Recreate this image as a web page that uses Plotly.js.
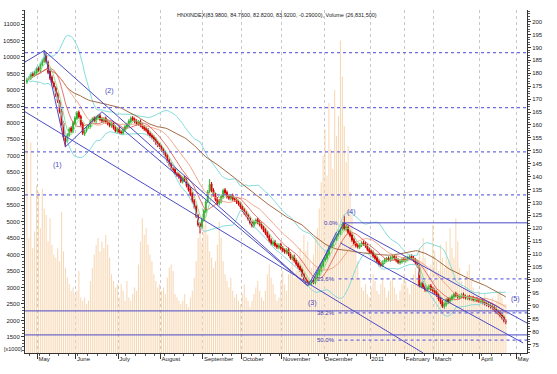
<!DOCTYPE html>
<html><head><meta charset="utf-8">
<script src="https://cdn.plot.ly/plotly-3.0.1.min.js"></script>
<style>html,body{margin:0;padding:0;background:#fff}#chart{width:557px;height:374px}</style>
</head><body><div id="chart"></div>
<script>
const monthIdx = [6,26,48,70,92,112,133,155,179,197,212,236,255];
const monthLabels = ['May','June','July','August','September','October','November','December','2011','February','March','April','May'];

const openP = [
176.6,177.9,178.0,179.9,179.2,180.2,182.0,181.0,183.4,184.6,
186.9,184.2,180.9,178.5,176.2,174.4,171.9,169.0,165.4,160.8,
154.9,153.6,156.0,158.8,157.4,160.5,162.4,164.9,163.3,160.4,
156.4,157.8,159.2,159.3,161.6,162.6,161.5,162.7,163.6,162.3,
161.4,162.6,161.4,160.7,159.6,160.8,159.1,157.5,158.5,157.4,
156.7,158.0,159.1,160.0,161.3,162.8,162.2,161.5,160.3,161.4,
160.1,159.3,158.6,158.1,156.8,156.0,155.3,154.4,153.2,152.3,
151.6,150.4,149.2,148.1,146.3,144.8,143.0,142.8,141.1,140.8,
139.9,138.0,139.6,138.6,136.7,135.2,133.4,130.6,128.4,124.9,
121.6,120.6,123.2,126.5,130.4,134.3,137.2,134.8,133.1,131.4,
129.5,130.3,132.1,134.9,133.9,132.4,131.4,132.7,131.5,131.1,
130.3,129.6,128.4,127.2,126.0,125.1,123.8,122.3,120.8,122.2,
123.4,122.4,121.6,120.5,119.4,118.3,117.0,115.4,113.8,114.8,
113.5,112.5,113.7,112.4,111.6,110.6,111.8,110.1,108.3,109.1,
107.6,106.3,105.2,104.0,102.1,100.5,99.4,98.4,98.7,99.8,
98.9,100.6,102.2,103.7,105.4,107.5,108.4,110.0,112.7,113.2,
115.3,115.8,117.5,118.0,119.8,122.0,119.5,120.4,118.5,117.4,
115.6,114.3,113.4,112.6,113.4,114.5,114.1,113.3,111.9,111.2,
110.7,109.4,108.6,107.3,106.2,105.6,106.8,107.6,108.4,107.7,
108.4,109.2,108.5,107.7,106.6,107.0,108.1,107.4,107.9,108.5,
109.2,108.6,107.8,106.7,105.1,97.5,98.8,97.4,95.9,96.7,
97.7,96.6,96.0,95.4,94.3,92.8,91.5,89.6,90.4,92.5,
91.6,92.6,93.4,94.7,94.0,93.2,93.6,94.4,93.6,92.9,
93.5,92.6,93.1,92.2,92.8,92.3,91.6,92.1,91.4,91.0,
90.7,90.3,89.8,89.4,88.6,87.8,87.4,86.4,85.5,83.98];
const highP = [
178.3,178.9,180.3,180.6,181.0,182.5,182.7,184.2,185.6,188.8,
187.8,184.9,181.6,179.2,176.9,175.0,172.6,169.7,166.1,161.5,
155.6,156.8,159.1,159.5,161.6,163.5,165.4,165.6,164.0,161.1,
158.2,159.6,160.3,162.1,163.0,163.3,163.6,164.1,164.3,163.0,
163.1,163.3,162.1,161.4,161.3,161.5,159.8,159.0,159.2,158.1,
158.8,160.1,160.9,162.2,163.3,163.5,162.9,162.2,161.9,162.1,
160.8,160.0,159.3,158.8,157.5,156.7,156.0,155.1,153.9,153.0,
152.3,151.1,149.9,148.8,147.0,145.5,143.7,143.5,141.8,141.5,
140.6,140.1,140.3,139.3,137.4,135.9,134.1,131.3,129.1,125.6,
122.3,124.2,127.5,130.9,134.8,139.0,137.9,135.5,133.8,132.1,
131.2,133.1,135.3,135.6,134.6,133.1,133.2,133.4,132.2,131.8,
131.0,130.3,129.1,127.9,126.7,125.8,124.5,123.0,123.1,123.8,
124.1,123.1,122.3,121.2,120.1,119.0,117.7,116.1,115.3,115.5,
114.2,114.2,114.4,113.1,112.3,112.3,112.5,110.8,109.6,109.8,
108.3,107.0,105.9,104.7,102.8,101.2,100.1,99.6,100.3,100.5,
101.5,103.1,104.6,106.3,108.0,109.3,110.9,113.2,114.4,115.8,
116.9,118.0,119.1,120.3,122.3,125.2,121.4,121.1,119.2,118.1,
116.3,115.0,114.1,114.3,115.0,115.2,114.8,114.0,112.6,111.9,
111.4,110.1,109.3,108.0,106.9,107.6,108.5,108.9,109.1,109.3,
109.7,109.9,109.2,108.4,107.9,108.6,108.8,108.8,109.4,109.6,
109.9,109.3,108.5,107.4,105.8,99.3,99.5,98.1,97.6,98.2,
98.4,97.3,96.7,96.1,95.0,93.5,92.2,91.3,93.0,93.2,
93.5,94.3,95.2,95.4,94.7,94.5,94.9,95.1,94.3,94.0,
94.2,93.6,93.8,93.3,93.5,93.0,92.6,92.8,92.1,91.7,
91.4,91.0,90.5,90.1,89.3,88.5,88.1,87.1,86.2,84.76];
const lowP = [
175.9,177.2,177.4,178.3,178.6,179.6,180.5,180.4,182.7,184.0,
184.0,179.6,177.4,175.7,174.1,170.8,168.5,164.4,159.7,154.1,
151.5,153.0,155.4,156.9,156.8,159.9,161.8,162.4,159.5,156.1,
155.7,157.1,158.5,158.6,160.9,161.1,160.8,162.0,161.4,160.9,
160.7,160.5,159.8,159.1,158.9,158.2,157.0,156.8,156.5,156.2,
156.0,157.3,158.4,159.3,160.6,161.4,160.6,159.8,159.6,159.1,
158.4,157.7,157.2,155.9,155.1,154.4,153.5,152.3,151.4,150.7,
149.5,148.4,147.2,145.3,143.9,142.5,141.8,140.6,139.9,139.1,
137.5,137.3,138.1,135.8,134.2,132.4,129.7,127.5,123.9,120.6,
118.0,119.9,122.5,125.8,129.7,133.6,133.9,132.1,130.4,129.0,
128.8,129.6,131.4,133.0,131.5,130.9,130.7,130.6,130.2,129.4,
128.7,127.5,126.3,125.1,124.2,122.9,121.4,120.3,120.1,121.5,
121.5,120.7,119.6,118.5,117.4,116.1,114.5,113.3,113.1,112.6,
112.0,111.8,111.5,110.7,110.1,109.9,109.2,107.8,107.6,106.7,
105.4,104.3,103.1,101.2,99.6,98.5,97.7,97.9,98.0,98.4,
98.2,99.9,101.5,103.0,104.7,106.8,107.7,109.3,111.8,112.5,
114.5,115.1,116.8,117.3,119.1,119.1,118.8,117.6,116.5,114.7,
113.4,112.5,112.1,111.9,112.7,113.2,112.4,111.1,110.2,109.8,
108.5,107.6,106.4,105.3,105.1,104.9,106.1,106.9,107.2,107.0,
107.7,107.7,106.8,106.1,105.9,106.3,106.9,106.7,107.2,107.8,
107.7,106.9,105.8,104.6,97.1,96.8,96.5,95.4,95.2,96.0,
95.7,95.1,94.5,93.4,91.9,90.6,89.1,88.8,89.7,90.7,
90.9,91.9,92.7,93.4,92.7,92.5,92.9,92.8,92.4,92.2,
92.1,91.9,91.7,91.5,91.4,91.1,90.9,90.5,90.1,89.8,
89.4,88.9,88.5,87.7,86.9,86.4,85.5,84.6,83.5,82.82];
const closeP = [
177.5,178.2,179.6,179.0,180.4,181.8,181.2,183.5,184.8,186.2,
184.6,180.3,178.1,176.4,174.8,171.5,169.2,165.1,160.4,155.2,
153.8,156.1,158.4,157.6,160.9,162.8,164.6,163.1,160.2,156.8,
157.5,158.9,159.6,161.4,162.3,161.8,162.9,163.4,162.1,161.6,
162.4,161.2,160.5,159.8,160.6,158.9,157.7,158.3,157.2,156.9,
158.1,159.4,160.2,161.5,162.6,162.1,161.3,160.5,161.2,159.8,
159.1,158.4,157.9,156.6,155.8,155.1,154.2,153.0,152.1,151.4,
150.2,149.1,147.9,146.0,144.6,143.2,142.5,141.3,140.6,139.8,
138.2,139.4,138.8,136.5,134.9,133.1,130.4,128.2,124.6,121.3,
120.4,123.5,126.8,130.2,134.1,136.9,134.6,132.8,131.1,129.7,
130.5,132.4,134.6,133.7,132.2,131.6,132.5,131.3,130.9,130.1,
129.4,128.2,127.0,125.8,124.9,123.6,122.1,121.0,122.4,123.1,
122.2,121.4,120.3,119.2,118.1,116.8,115.2,114.0,114.6,113.3,
112.7,113.5,112.2,111.4,110.8,111.6,109.9,108.5,108.9,107.4,
106.1,105.0,103.8,101.9,100.3,99.2,98.6,98.9,99.6,99.1,
100.8,102.4,103.9,105.6,107.3,108.6,110.2,112.5,113.4,115.1,
116.0,117.3,118.2,119.6,121.6,119.8,120.6,118.3,117.2,115.4,
114.1,113.2,112.8,113.6,114.3,113.9,113.1,111.8,110.9,110.5,
109.2,108.3,107.1,106.0,105.8,106.9,107.8,108.2,107.9,108.6,
109.0,108.4,107.5,106.8,107.2,107.9,107.6,108.1,108.7,108.9,
108.4,107.6,106.5,105.3,97.8,98.6,97.2,96.1,96.9,97.5,
96.4,95.8,95.2,94.1,92.6,91.3,89.8,90.6,92.3,91.4,
92.8,93.6,94.5,94.1,93.4,93.8,94.2,93.5,93.1,93.3,
92.8,92.9,92.4,92.6,92.1,91.8,91.9,91.2,90.8,90.5,
90.1,89.6,89.2,88.4,87.6,87.1,86.2,85.3,84.2,83.92];
const volume = [
7500,4500,7400,4200,4700,6100,5900,4800,6000,5400,
5200,4400,5100,4300,4000,3900,4200,3800,5300,4100,
3600,3300,3100,2900,3000,2800,2900,3500,2700,2600,
2700,2500,2600,3200,3600,4000,4300,4500,4100,4400,
4200,4600,4300,3900,3400,3200,3000,3100,2700,3100,
2900,2600,3200,2700,2600,2800,3000,2900,3700,4400,
5100,4600,4800,4300,4000,3800,3400,3200,3000,3100,
2900,3000,2800,3300,3600,3700,3500,2800,2700,2600,
2500,2600,2800,2500,2400,2700,2900,3300,3800,4500,
4700,4400,4900,5400,4600,4100,3900,3600,3800,4300,
5000,4500,3800,3400,3200,3000,3300,2900,2700,2800,
2600,2500,2800,3100,2700,2600,2400,2600,2800,3000,
3200,2900,2700,2600,2900,3400,3700,3300,3100,2800,
2600,2700,3200,3500,3100,2900,3400,3600,3900,3300,
3500,3800,4200,3900,4600,4100,4400,3800,3600,4000,
4500,4800,5400,6200,7000,7800,6400,8600,7200,6600,
9000,7600,8200,10500,9400,7900,6800,7300,5900,5200,
4600,4100,3800,3300,3000,2900,3100,2800,2700,3000,
3400,3200,2900,2800,3100,3300,3000,2700,2900,3200,
3300,3000,2800,2600,2900,3100,3400,3200,3000,2800,
3100,3400,3600,3300,4200,3800,4500,3900,3600,3400,
3700,4900,4100,3800,3500,4300,3900,3600,4400,3800,
4800,4200,3900,5100,4400,3600,3200,3000,3300,3500,
3700,3200,3000,2800,2700,2900,2600,2700,2800,2500,
2600,2400,2700,2500,2600,2800,2900,2700,2500,2500];

// trend lines (trading-day index, index level)
const trendX = [[-1.6,9],[9,20],[20,39],[9,146],[39,146],[-1,206],[146,165],[148,161],[165,260],[163,258]];
const trendY = [[184.1,188.8],[188.8,151.5],[151.5,165.1],[188.8,97.7],[165.1,97.7],[165.1,71.7],[97.7,122.1],[98.8,118.6],[122.1,83.3],[114.3,75.6]];

const dotLevels = [188.0,166.7,149.6,132.9];
const solidLevels = [88.0,78.7];
const fibLevels = [122.1,100.4,87.2,76.7];
const fibLabels = ['0.0%','23.6%','38.2%','50.0%'];
const fibStart = [164,162,162,162];

const waveLabels = ['(1)','(2)','(3)','(4)','(5)'];
const waveX = [16,43,148.6,169,254];
const waveY = [144.6,173.3,91.1,126.4,92.6];

const titleText = 'HNXINDEX(83.9800, 84.7600, 82.8200, 83.9200, -0.29000), Volume (26,831,500)';

const dayIdx = closeP.map((_, i) => i);
function sma(a, n){ return a.map((_, i) => { const s = Math.max(0, i-n+1); let t = 0; for (let k=s;k<=i;k++) t += a[k]; return t/(i-s+1); }); }
function band(a, n, m){ const mid = sma(a, n); return a.map((_, i) => { const s = Math.max(0, i-n+1); let v = 0; for (let k=s;k<=i;k++) v += (a[k]-mid[i])**2; return mid[i] + m*Math.sqrt(v/(i-s+1)); }); }

const traces = [];
traces.push({type:'bar', x:dayIdx, y:volume, yaxis:'y', xaxis:'x', marker:{color:'#f8d8b4', line:{width:0}}, hoverinfo:'skip', showlegend:false});

function line(y, color, w){ return {type:'scatter', mode:'lines', x:dayIdx, y:y, yaxis:'y2', line:{color:color, width:w}, hoverinfo:'skip', showlegend:false}; }
traces.push(line(band(closeP,20,2), '#86dcdc', 1));
traces.push(line(band(closeP,20,-2), '#86dcdc', 1));
traces.push(line(sma(closeP,50), '#9a5a30', 0.9));
traces.push(line(sma(closeP,20), '#f0a080', 0.9));
traces.push(line(sma(closeP,10), '#e05050', 0.8));
traces.push(line(sma(closeP,5), '#86dc86', 0.9));

traces.push({type:'candlestick', x:dayIdx, open:openP, high:highP, low:lowP, close:closeP, yaxis:'y2', xaxis:'x',
  increasing:{line:{color:'#2fb02f', width:1}, fillcolor:'#6ee06e'},
  decreasing:{line:{color:'#d00000', width:1}, fillcolor:'#ee1a1a'},
  whiskerwidth:0, hoverinfo:'skip', showlegend:false});

for (let i=0;i<trendX.length;i++){
  traces.push({type:'scatter', mode:'lines', x:trendX[i], y:trendY[i], yaxis:'y2', line:{color:'#4b4bc4', width:1}, hoverinfo:'skip', showlegend:false});
}

const dotStyle = {color:'#6c6ce0', width:1.2, dash:'dot'};
const shapes = [];
dotLevels.forEach(v => shapes.push({type:'line', xref:'paper', x0:0, x1:1, yref:'y2', y0:v, y1:v, line:dotStyle, layer:'above'}));
solidLevels.forEach(v => shapes.push({type:'line', xref:'paper', x0:0, x1:1, yref:'y2', y0:v, y1:v, line:{color:'#4a4ac8', width:1}, layer:'above'}));
fibLevels.forEach((v,i) => shapes.push({type:'line', xref:'x', x0:fibStart[i], x1:260, yref:'y2', y0:v, y1:v, line: i===0 ? {color:'#4a4ac8', width:1} : dotStyle, layer:'above'}));

const annotations = [];
fibLevels.forEach((v,i) => annotations.push({xref:'x', yref:'y2', x:fibStart[i]-1, y:v, text:fibLabels[i], showarrow:false, xanchor:'right', yanchor:'middle', font:{size:6, color:'#3c3cb4'}}));
waveLabels.forEach((t,i) => annotations.push({xref:'x', yref:'y2', x:waveX[i], y:waveY[i], text:t, showarrow:false, font:{size:7, color:'#4a4ac0'}}));
annotations.push({xref:'paper', yref:'paper', x:-0.046, y:0.012, xanchor:'left', yanchor:'middle', text:'[x1000]', showarrow:false, font:{size:5.5, color:'#222'}});

const layout = {
  width:557, height:374,
  margin:{l:25, r:30, t:10, b:21},
  paper_bgcolor:'#ffffff', plot_bgcolor:'#ffffff',
  font:{family:'Liberation Sans, Arial, sans-serif', size:6, color:'#222'},
  title:{text:titleText, x:0.497, xref:'container', y:0.96, yref:'container', yanchor:'middle', font:{size:5.5, color:'#222'}},
  showlegend:false,
  bargap:0.45,
  xaxis:{range:[-1,260], rangeslider:{visible:false}, tickmode:'array', tickvals:monthIdx.map(i => i-0.5), ticktext:monthLabels,
    ticks:'outside', ticklen:5, tickcolor:'#333', ticklabelposition:'outside right', tickangle:0, automargin:false,
    showgrid:true, gridcolor:'#c8c8c8', griddash:'dot', gridwidth:1,
    showline:true, linecolor:'#333', linewidth:1, zeroline:false,
    minor:{dtick:5, tick0:1.5, ticks:'outside', ticklen:2, tickcolor:'#555', showgrid:false},
    tickfont:{size:6}},
  yaxis:{range:[1012,11425], tickmode:'linear', tick0:1500, dtick:500, tickformat:'d', ticks:'outside', ticklen:3, tickcolor:'#333',
    showgrid:false, zeroline:false, showline:true, linecolor:'#333', linewidth:1, automargin:false,
    minor:{dtick:100, ticks:'outside', ticklen:2, tickcolor:'#555', showgrid:false}, tickfont:{size:6}},
  yaxis2:{range:[71.7,204.5], overlaying:'y', side:'right', tickmode:'linear', tick0:75, dtick:5, tickformat:'d', ticks:'outside', ticklen:3, tickcolor:'#333',
    showgrid:false, zeroline:false, showline:true, linecolor:'#333', linewidth:1, automargin:false,
    minor:{dtick:1, ticks:'outside', ticklen:2, tickcolor:'#555', showgrid:false}, tickfont:{size:6}},
  shapes:shapes,
  annotations:annotations
};

Plotly.newPlot('chart', traces, layout, {staticPlot:true, displayModeBar:false});
</script>
</body></html>
